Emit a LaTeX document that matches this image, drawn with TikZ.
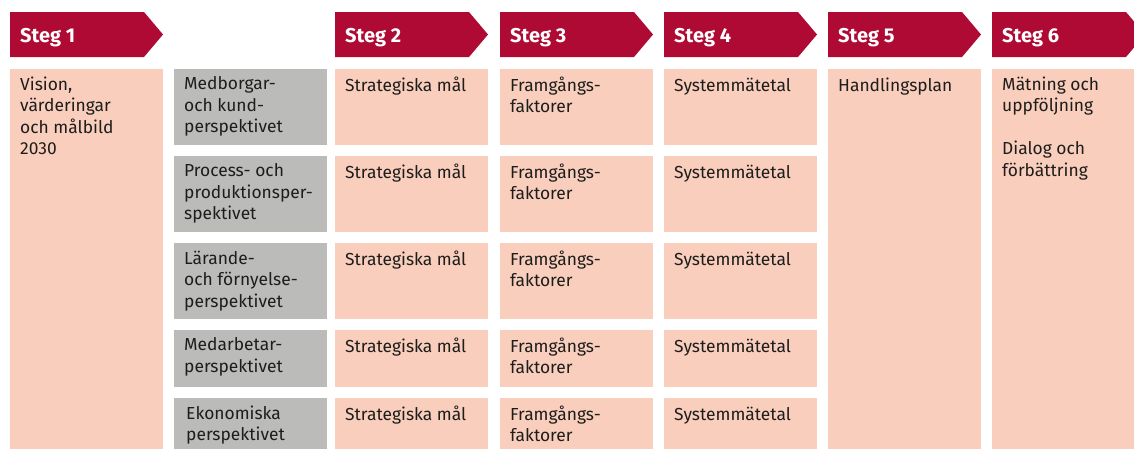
\documentclass[tikz,border=0pt]{standalone}
\usepackage{fontspec}
\setmainfont{Fira Sans}
\usetikzlibrary{calc}
\definecolor{stegred}{HTML}{AE0A34}
\definecolor{peach}{HTML}{F9CEBD}
\definecolor{grayp}{HTML}{BBBBBA}
\definecolor{ink}{HTML}{1D1D1B}
\begin{document}
\begin{tikzpicture}[x=1pt,y=-1pt,
  hdr/.style={fill=stegred, draw=none},
  hdrtxt/.style={text=white, font=\fontsize{20}{24}\selectfont\bfseries, anchor=base west, inner sep=0pt},
  pbox/.style={fill=peach, draw=none, anchor=north west, inner sep=0pt, minimum width=153pt},
  gbox/.style={fill=grayp, draw=none, anchor=north west, inner sep=0pt, minimum width=153pt},
  txt/.style={text=ink, font=\fontsize{17.4}{21.5}\selectfont, anchor=north west, inner sep=0pt, align=left, execute at begin node=\strut}]
\useasboundingbox (0,0) rectangle (1134,448);
\clip (0,0) rectangle (1134,448);
% header arrows
\foreach \x/\n in {10/1,335/2,500/3,664/4,828/5,992/6}{
  \fill[hdr] (\x,12) -- ++(134,0) -- ++(19,22.5) -- ++(-19,22.5) -- ++(-134,0) -- cycle;
  \node[hdrtxt] (h\n) at (\x+10,42.5) {Steg \n};
}
% tall boxes
\node[pbox, minimum height=390pt] (b1) at (10,69) {};
\node[txt] (t1) at (20,76.5) {Vision,\\värderingar\\och målbild\\2030};
\node[pbox, minimum height=390pt] (b5) at (828,69) {};
\node[txt] (t5) at (838,76.5) {Handlingsplan};
\node[pbox, minimum height=390pt] (b6) at (992,69) {};
\node[txt] (t6) at (1002,76.5) {Mätning och\\uppföljning\\[21.5pt]Dialog och\\förbättring};
% rows
\foreach \y/\h/\r in {69/76/1,156/76/2,243/76/3,330/57/4,398/70/5}{
  \node[gbox, minimum height=\h pt] (g\r) at (174,\y) {};
  \node[pbox, minimum height=\h pt] (s2\r) at (335,\y) {};
  \node[txt] (s2t\r) at (345,\y+7.5) {Strategiska mål};
  \node[pbox, minimum height=\h pt] (s3\r) at (500,\y) {};
  \node[txt] (s3t\r) at (510,\y+7.5) {Framgångs-\\faktorer};
  \node[pbox, minimum height=\h pt] (s4\r) at (664,\y) {};
  \node[txt] (s4t\r) at (674,\y+7.5) {Systemmätetal};
}
\node[txt] (gt1) at (184,76.5) {Medborgar-\\och kund-\\perspektivet};
\node[txt] (gt2) at (184,163.5) {Process- och\\produktionsper-\\spektivet};
\node[txt] (gt3) at (184,250.5) {Lärande-\\och förnyelse-\\perspektivet};
\node[txt] (gt4) at (184,337.5) {Medarbetar-\\perspektivet};
\node[txt] (gt5) at (186,405.5) {Ekonomiska\\perspektivet};
\end{tikzpicture}
\end{document}
